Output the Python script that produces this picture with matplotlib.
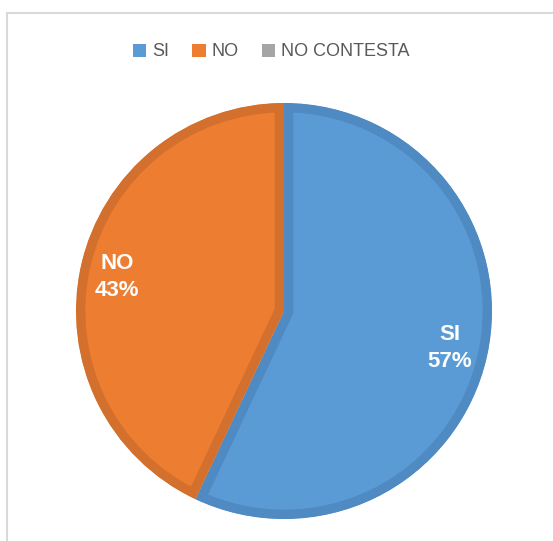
import matplotlib
matplotlib.use("Agg")
import matplotlib.pyplot as plt
from matplotlib.patches import Patch
from matplotlib.lines import Line2D

categories = ["SI", "NO", "NO CONTESTA"]
values = [57, 43, 0]
fill_colors = ["#5B9BD5", "#ED7D31", "#A5A5A5"]
edge_colors = ["#4F8AC2", "#D4702D", "#949494"]

W, H = 553, 541
fig = plt.figure(figsize=(W / 100, H / 100), dpi=100)
ax = fig.add_axes([0, 0, 1, 1])

cx, cy, r = 284, H - 311, 208
wedges, _ = ax.pie(values, colors=fill_colors, startangle=90, counterclock=False,
                   center=(cx, cy), radius=r, frame=True,
                   wedgeprops=dict(linewidth=13.5))
ax.set_xlim(0, W)
ax.set_ylim(0, H)
ax.set_aspect("equal")
ax.axis("off")
for w, v, ec in zip(wedges, values, edge_colors):
    w.set_edgecolor(ec)
    w.set_clip_on(True)
    w.set_clip_path(w)   # inner stroke only
    if v == 0:
        w.set_visible(False)

# data labels
label_pos = {"SI": (450, 348), "NO": (117, 277)}
total = sum(values)
for cat, v in zip(categories, values):
    if v == 0:
        continue
    x, y = label_pos[cat]
    ax.text(x, H - y, f"{cat}\n{round(100 * v / total)}%", ha="center", va="center",
            color="white", fontsize=16, fontweight="bold", family="Liberation Sans",
            linespacing=1.4)

# legend
handles = [Patch(facecolor=c, edgecolor="none") for c in fill_colors]
leg = fig.legend(handles, categories, loc="center", bbox_to_anchor=(271 / W, 1 - 52 / H),
                 ncol=3, frameon=False, handlelength=0.75, handleheight=0.75,
                 handletextpad=0.3, columnspacing=1.3,
                 prop=dict(family="Liberation Sans", size=13))
for t in leg.get_texts():
    t.set_color("#595959")

# chart frame (left & top visible)
fig.add_artist(Line2D([7 / W, 1], [1 - 13 / H, 1 - 13 / H], transform=fig.transFigure,
                      color="#D9D9D9", linewidth=1.5))
fig.add_artist(Line2D([7 / W, 7 / W], [0, 1 - 13 / H], transform=fig.transFigure,
                      color="#D9D9D9", linewidth=1.5))

fig.savefig("out.png", dpi=100)
